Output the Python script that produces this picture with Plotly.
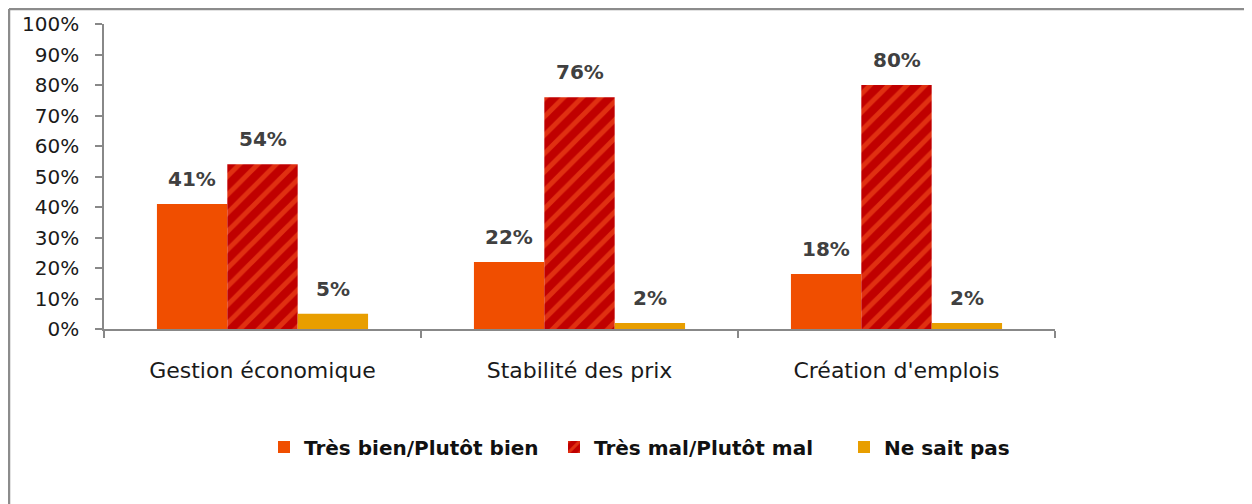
import plotly.graph_objects as go

categories = ["Gestion économique", "Stabilité des prix", "Création d'emplois"]
series_names = ["Très bien/Plutôt bien", "Très mal/Plutôt mal", "Ne sait pas"]
bien = [0.41, 0.22, 0.18]
mal = [0.54, 0.76, 0.80]
nsp = [0.05, 0.02, 0.02]
tick_vals = [i / 10 for i in range(11)]
tick_text = [f"{i*10}%" for i in range(11)]

FONT = "DejaVu Sans"
OFF = 8  # default page body margin
W, H = 1252 - OFF, 504 - OFF
L, T = 104 - OFF, 24 - OFF
PR, PB = 1055 - OFF, 329 - OFF
R, B = W - PR, H - PB
PW, PH = PR - L, PB - T

fig = go.Figure()
fig.add_trace(go.Bar(name=series_names[0], x=categories, y=bien,
                     marker=dict(color="#F04E00", line=dict(width=0))))
fig.add_trace(go.Bar(name=series_names[1], x=categories, y=mal,
                     marker=dict(color="#C00000", line=dict(width=0),
                                 pattern=dict(shape="/", fgcolor="#FF5F22",
                                              bgcolor="#C00000", size=13, solidity=0.38))))
fig.add_trace(go.Bar(name=series_names[2], x=categories, y=nsp,
                     marker=dict(color="#E89E00", line=dict(width=0))))

bargap = 0.334
bw = (1 - bargap) / 3
annotations = []
for j, vals in enumerate([bien, mal, nsp]):
    for i, v in enumerate(vals):
        annotations.append(dict(x=i + (j - 1) * bw, y=v, xref="x", yref="y",
                                text=f"<b>{round(v*100)}%</b>", showarrow=False,
                                yanchor="middle", yshift=25,
                                font=dict(family=FONT, size=20, color="#404040")))


def px_to_paper_x(px):
    return (px - OFF - L) / PW


def px_to_paper_y(py):
    return (PB - (py - OFF)) / PH


shapes = [
    dict(type="line", xref="paper", yref="paper",
         x0=px_to_paper_x(9), x1=px_to_paper_x(1270),
         y0=px_to_paper_y(9), y1=px_to_paper_y(9),
         line=dict(color="#8C8C8C", width=2.5)),
    dict(type="line", xref="paper", yref="paper",
         x0=px_to_paper_x(9), x1=px_to_paper_x(9),
         y0=px_to_paper_y(9), y1=px_to_paper_y(520),
         line=dict(color="#8C8C8C", width=2.5)),
]

fig.update_layout(
    width=W, height=H,
    margin=dict(l=L, r=R, t=T, b=B, autoexpand=False),
    paper_bgcolor="white", plot_bgcolor="white",
    barmode="group", bargap=bargap, bargroupgap=0,
    font=dict(family=FONT, color="#1a1a1a"),
    showlegend=True,
    legend=dict(orientation="h", x=px_to_paper_x(264), xanchor="left",
                y=px_to_paper_y(447), yanchor="middle",
                font=dict(family=FONT, size=20, color="#111111", weight="bold"),
                itemwidth=30, entrywidth=245, entrywidthmode="pixels",
                traceorder="normal"),
    annotations=annotations,
    shapes=shapes,
)
fig.update_xaxes(type="category", showline=True, linecolor="#888888", linewidth=1.5,
                 ticks="outside", tickson="boundaries", ticklen=7, tickcolor="#888888",
                 tickwidth=1.5, tickfont=dict(family=FONT, size=22, color="#1a1a1a"),
                 ticklabelstandoff=21, showgrid=False, zeroline=False)
fig.update_yaxes(range=[0, 1], tickvals=tick_vals, ticktext=tick_text,
                 showline=True, linecolor="#888888", linewidth=1.5,
                 ticks="outside", ticklen=7, tickcolor="#888888", tickwidth=1.5,
                 tickfont=dict(family=FONT, size=20, color="#1a1a1a"),
                 ticklabelstandoff=12, showgrid=False, zeroline=False)

fig.write_html("out.html")
